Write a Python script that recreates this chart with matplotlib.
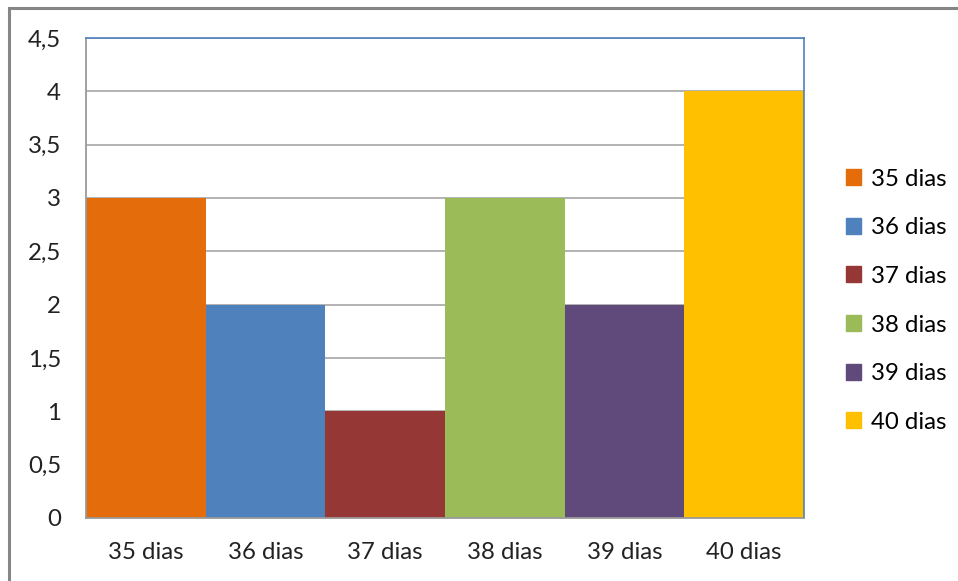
import numpy as np
import matplotlib
matplotlib.use("Agg")
import matplotlib.pyplot as plt
from matplotlib.patches import Rectangle

categorias = ["35 dias", "36 dias", "37 dias", "38 dias", "39 dias", "40 dias"]
valores = [3, 2, 1, 3, 2, 4]
cores = ["#E46C0A", "#4F81BD", "#953735", "#9BBB59", "#604A7B", "#FFC000"]
yticks = [0, 0.5, 1, 1.5, 2, 2.5, 3, 3.5, 4, 4.5]

plt.rcParams['font.family'] = ['Lato', 'DejaVu Sans']

W, H = 958, 581
fig = plt.figure(figsize=(W / 100, H / 100), dpi=100)
ax = fig.add_axes([86 / W, 1 - 518 / H, (804 - 86) / W, (518 - 38) / H])

x = np.arange(len(categorias))
bars = ax.bar(x, valores, width=1.0, color=cores, label=categorias, zorder=2)

ax.set_xlim(-0.5, len(categorias) - 0.5)
ax.set_ylim(0, 4.5)
ax.set_yticks(yticks)
ax.set_yticklabels([("%g" % v).replace(".", ",") for v in yticks])
ax.set_xticks(x)
ax.set_xticklabels(categorias)
ax.tick_params(length=0, labelsize=17.3, colors="#222222")
ax.tick_params(axis="y", pad=18)
ax.tick_params(axis="x", pad=17)
ax.yaxis.grid(True, color="#a6a6a6", linewidth=1.2, zorder=0)
ax.set_axisbelow(True)

for s in ["left", "bottom"]:
    ax.spines[s].set_color("#9a9a9a")
    ax.spines[s].set_linewidth(1.3)
for s in ["top", "right"]:
    ax.spines[s].set_color("#4F81BD")
    ax.spines[s].set_linewidth(1.2)

handles = [Rectangle((0, 0), 1, 1, color=c) for c in cores]
leg = fig.legend(handles, categorias, loc="upper left",
                 bbox_to_anchor=(836 / W, 1 - 159 / H), frameon=False,
                 fontsize=17.3, handlelength=0.65, handleheight=0.65,
                 handletextpad=0.4, labelspacing=1.15, borderaxespad=0)

# outer chart border (only top/left visible in the crop)
fig.patches.append(Rectangle((9 / W, -0.1), 1.2, 1 - 8 / H + 0.1,
                             transform=fig.transFigure, fill=False,
                             edgecolor="#868686", linewidth=2.2))

fig.savefig("out.png", dpi=100)
